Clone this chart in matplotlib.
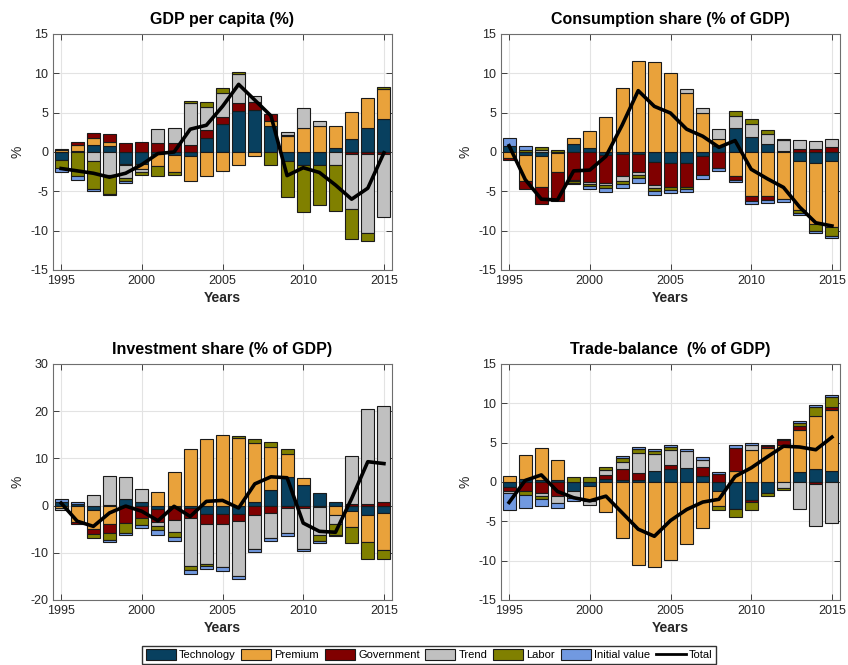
import matplotlib

matplotlib.use("Agg")
import matplotlib.pyplot as plt
import numpy as np
from matplotlib.lines import Line2D
from matplotlib.patches import Patch

plt.rcParams["font.family"] = ["Liberation Sans", "DejaVu Sans"]
plt.rcParams["axes.unicode_minus"] = False

years = list(range(1995, 2016))
components = ["Technology", "Premium", "Government", "Trend", "Labor", "Initial value"]
colors = ["#08405f", "#e9a23b", "#800000", "#c0c0c0", "#808000", "#7199e0"]

# GDP per capita (%)
gdp_tech = [-1.0, 0.1, 0.9, 0.7, -1.5, -1.5, -0.3, -0.4, -0.45, 1.8, 3.5, 5.2, 5.4, 3.3, -1.2, -1.6, -1.7, 0.5, 1.6, 3.1, 4.25]
gdp_premium = [0.3, 0.8, 0.9, 0.6, -0.2, -0.6, -1.5, -2.2, -3.2, -3.0, -2.4, -1.6, -0.5, 0.7, 2.0, 3.1, 3.3, 2.8, 3.5, 3.8, 3.75]
gdp_gov = [0.1, 0.4, 0.6, 1.0, 1.1, 1.3, 1.2, 1.1, 0.9, 1.0, 1.0, 1.0, 0.9, 0.85, 0.1, 0, 0, 0, -0.2, -0.2, -0.25]
gdp_trend = [0, 0, -1.2, -2.9, -1.6, -0.5, 1.7, 1.9, 5.3, 2.9, 3.0, 3.7, 0.8, 0, 0.4, 2.5, 0.65, -1.7, -7.0, -10.1, -8.0]
gdp_labor = [-1.0, -3.0, -3.5, -2.4, -0.4, -0.3, -1.2, -0.3, 0.3, 0.7, 0.6, 0.3, 0, -1.6, -4.5, -6.0, -5.0, -5.8, -3.9, -1.0, 0.3]
gdp_init = [-0.5, -0.5, -0.3, -0.2, -0.2, 0, 0, 0, 0, 0, 0, 0, 0, 0, 0, 0, 0, 0, 0, 0, 0]
gdp_total = [-2.1, -2.4, -2.7, -3.2, -2.7, -1.6, -0.2, 0.0, 2.9, 3.4, 5.8, 8.6, 6.6, 4.6, -3.0, -2.0, -2.6, -4.2, -6.0, -4.6, -0.1]

# Consumption share (% of GDP)
cons_tech = [0.7, -0.4, -0.5, -0.1, 1.05, 0.5, -0.35, -0.3, -0.2, -1.3, -1.4, -1.4, -0.5, 0.8, 3.1, 1.95, 1.05, 0.1, -1.2, -1.45, -1.15]
cons_premium = [-0.75, -3.3, -4.0, -2.5, 0.7, 2.15, 4.5, 8.1, 11.6, 11.4, 10.0, 7.5, 4.9, 0.9, -3.1, -5.65, -5.65, -6.0, -6.2, -7.75, -8.4]
cons_gov = [-0.3, -1.0, -2.1, -3.6, -3.5, -3.85, -3.6, -2.8, -2.4, -2.9, -3.0, -3.0, -2.4, -2.0, -0.4, -0.6, -0.5, 0, 0.4, 0.4, 0.6]
cons_trend = [0, 0, 0.2, 0, -0.2, -0.2, -0.3, -0.6, -0.3, -0.4, 0, 0.5, 0.7, 1.25, 1.5, 1.65, 1.3, 1.45, 1.1, 1.05, 1.0]
cons_labor = [0, 0.3, 0.4, 0.2, -0.2, -0.3, -0.35, -0.4, -0.45, -0.4, -0.4, -0.3, 0, 0, 0.6, 0.6, 0.4, 0.1, -0.4, -0.9, -1.15]
cons_init = [1.1, 0.5, 0, 0, -0.2, -0.3, -0.5, -0.5, -0.6, -0.5, -0.45, -0.4, -0.5, -0.4, -0.35, -0.4, -0.3, -0.3, -0.2, -0.2, -0.2]
cons_total = [0.8, -3.5, -6.0, -6.1, -2.4, -2.3, -0.55, 3.4, 7.8, 5.8, 4.95, 2.9, 2.0, 0.6, 1.45, -2.2, -3.4, -4.5, -7.0, -9.0, -9.4]

# Investment share (% of GDP)
inv_tech = [0.7, 0.4, -0.85, 0.2, 1.3, 0.7, -0.7, -0.35, -0.5, -1.7, -1.7, -1.7, 0.7, 3.4, 6.0, 4.45, 2.7, 0.8, -1.2, -1.9, -1.55]
inv_premium = [-0.6, -3.4, -4.2, -4.0, 0, 0, 2.8, 7.1, 12.0, 14.2, 15.0, 14.3, 12.6, 9.0, 5.0, 1.4, -0.2, -1.9, -3.4, -5.9, -7.8]
inv_gov = [0, -0.5, -1.05, -1.75, -3.7, -2.6, -2.75, -2.6, -2.1, -2.3, -2.3, -1.6, -1.9, -1.55, -0.5, -0.5, 0, 0, 0.35, 0.4, 0.7]
inv_trend = [-0.35, 0, 2.3, 6.0, 4.7, 2.9, -0.9, -2.7, -10.25, -8.3, -9.0, -11.7, -7.3, -5.3, -5.3, -8.7, -6.0, -2.1, 10.25, 20.1, 20.35]
inv_labor = [0, 0, -0.7, -1.6, -2.0, -1.55, -0.9, -1.0, -0.7, -0.4, 0, 0.5, 0.85, 1.0, 1.0, 0, -1.3, -2.3, -3.3, -3.5, -2.0]
inv_init = [0.8, 0.4, 0, -0.35, -0.6, -0.7, -1.0, -0.9, -0.85, -0.7, -0.9, -0.55, -0.6, -0.55, -0.55, -0.5, -0.5, -0.2, 0, 0, 0]
inv_total = [0.55, -3.3, -4.4, -1.55, -0.1, -1.2, -3.2, -0.15, -2.3, 0.9, 1.1, -0.5, 4.6, 6.1, 5.9, -3.7, -5.45, -5.65, 1.5, 9.3, 8.9]

# Trade-balance (% of GDP)
tb_tech = [-0.6, 0.4, 0.3, 0.3, -1.1, -0.55, 0.35, 0.3, 0.3, 1.4, 1.65, 1.75, 0.8, -1.1, -3.4, -2.3, -1.45, 0, 1.25, 1.65, 1.45]
tb_premium = [0.7, 3.0, 4.0, 2.5, 0, -1.9, -3.75, -7.1, -10.5, -10.75, -9.9, -7.9, -5.85, -1.95, 1.45, 4.05, 4.35, 4.75, 5.3, 6.75, 7.65]
tb_gov = [-0.55, -1.1, -1.45, -1.8, 0, 0, 0.55, 1.3, 0.8, 0, 0.45, 0, 1.15, 1.0, 2.9, -0.25, 0.25, 0.55, 0.6, -0.2, 0.45]
tb_trend = [-0.2, 0, -0.35, -0.85, -0.9, -0.5, 0.6, 0.95, 2.6, 2.1, 2.0, 2.15, 0.9, 0, 0, 0.6, 0, -0.75, -3.4, -5.45, -5.25]
tb_labor = [0, -0.6, -0.35, 0, 0.6, 0.6, 0.35, 0.5, 0.45, 0.45, 0.35, 0, 0, -0.5, -1.0, -1.0, -0.35, -0.3, 0.4, 1.15, 1.25]
tb_init = [-2.2, -1.55, -0.95, -0.6, -0.4, 0, 0, 0.2, 0.3, 0.3, 0.3, 0.35, 0.3, 0.25, 0.3, 0.3, 0.15, 0.2, 0.2, 0.2, 0.2]
tb_total = [-2.6, 0.2, 0.9, -1.2, -2.0, -2.4, -1.8, -3.9, -6.0, -6.9, -4.9, -3.5, -2.55, -2.2, 0.7, 1.8, 3.2, 4.55, 4.45, 4.1, 5.7]

INK = "#262626"


def draw_panel(ax, comps, total, title, ylim, ystep):
    x = np.array(years)
    pos = np.zeros(len(x))
    neg = np.zeros(len(x))
    for vals, color in zip(comps, colors):
        v = np.asarray(vals, dtype=float)
        for part, base in ((np.clip(v, 0, None), pos), (np.clip(v, None, 0), neg)):
            keep = part != 0
            ax.bar(x[keep], part[keep], bottom=base[keep], width=0.8, color=color,
                   edgecolor="#1a1a1a", linewidth=0.8, zorder=3)
            base += part
    ax.plot(x, total, color="black", linewidth=2.6, zorder=5)

    ax.set_xlim(1994.5, 2015.5)
    ax.set_ylim(*ylim)
    ax.set_xticks([1995, 2000, 2005, 2010, 2015])
    ax.set_yticks(np.arange(ylim[0], ylim[1] + 1, ystep))
    ax.grid(True, color="#e3e3e3", linewidth=0.8, zorder=0)
    ax.set_axisbelow(True)
    ax.tick_params(direction="in", top=True, right=True, labelsize=9,
                   colors=INK, length=4, width=0.6)
    for s in ax.spines.values():
        s.set_color("#6e6e6e")
        s.set_linewidth(0.8)
    ax.set_title(title, fontsize=11.5, fontweight="bold", pad=7)
    ax.set_xlabel("Years", fontsize=10, fontweight="bold", color=INK, labelpad=3)
    ax.set_ylabel("%", fontsize=10, color=INK)


fig = plt.figure(figsize=(8.48, 6.65), dpi=100)
w, h = 339 / 848, 236 / 665
ax1 = fig.add_axes([53 / 848, 395 / 665, w, h])
ax2 = fig.add_axes([501 / 848, 395 / 665, w, h])
ax3 = fig.add_axes([53 / 848, 65 / 665, w, h])
ax4 = fig.add_axes([501 / 848, 65 / 665, w, h])

draw_panel(ax1, [gdp_tech, gdp_premium, gdp_gov, gdp_trend, gdp_labor, gdp_init],
           gdp_total, "GDP per capita (%)", (-15, 15), 5)
draw_panel(ax2, [cons_tech, cons_premium, cons_gov, cons_trend, cons_labor, cons_init],
           cons_total, "Consumption share (% of GDP)", (-15, 15), 5)
draw_panel(ax3, [inv_tech, inv_premium, inv_gov, inv_trend, inv_labor, inv_init],
           inv_total, "Investment share (% of GDP)", (-20, 30), 10)
draw_panel(ax4, [tb_tech, tb_premium, tb_gov, tb_trend, tb_labor, tb_init],
           tb_total, "Trade-balance  (% of GDP)", (-15, 15), 5)

handles = [Patch(facecolor=c, edgecolor="#1a1a1a", linewidth=0.8) for c in colors]
handles.append(Line2D([], [], color="black", linewidth=2))
fig.legend(handles, components + ["Total"], loc="lower center", bbox_to_anchor=(0.506, 0.002),
           ncol=7, fontsize=8, frameon=True, fancybox=False, edgecolor="black",
           handlelength=2.7, handleheight=1.1, handletextpad=0.3, columnspacing=0.5,
           borderpad=0.3, borderaxespad=0.0)

fig.savefig("out.png", dpi=100)
